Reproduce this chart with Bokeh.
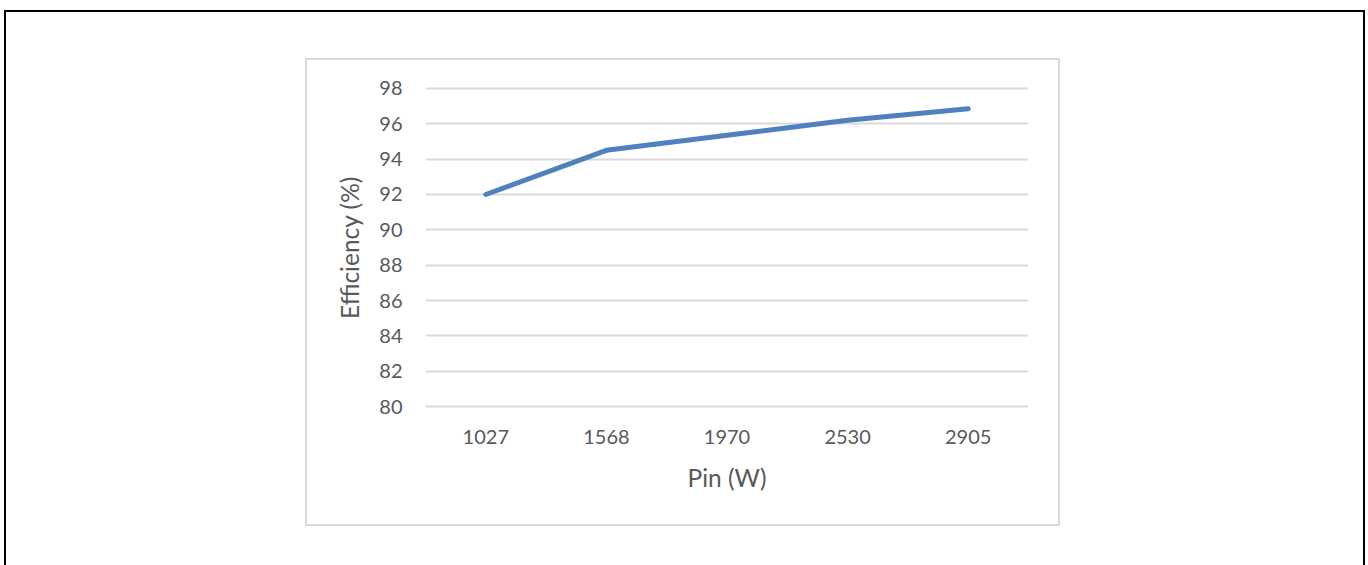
from bokeh.plotting import figure
from bokeh.models import Range1d, FactorRange, FixedTicker
from bokeh.embed import file_html
from bokeh.resources import INLINE

# data
categories = ["1027", "1568", "1970", "2530", "2905"]
efficiency = [92.0, 94.5, 95.35, 96.2, 96.85]
y_ticks = [80, 82, 84, 86, 88, 90, 92, 94, 96, 98]

FONT = "Lato"
TEXT = "#595959"
GRID = "#d9d9d9"

W, H = 1368, 565
css = """
:host::before { content: ""; position: absolute; left: 305px; top: 58px;
  width: 751px; height: 464px; border: 2px solid #d9d9d9; pointer-events: none; z-index: 10; }
:host::after { content: ""; position: absolute; left: 4px; top: 10px;
  width: 1357px; height: 555px; border: 2px solid black; border-bottom: none;
  pointer-events: none; z-index: 10; }
"""

p = figure(
    width=W, height=H,
    x_range=FactorRange(*categories, range_padding=0),
    y_range=Range1d(79.887, 98.113),
    output_backend="svg", toolbar_location=None,
    min_border_left=425, min_border_right=W - 1028,
    min_border_top=86, min_border_bottom=H - 408,
    stylesheets=[css],
)
p.outline_line_color = None
p.background_fill_color = "white"
p.border_fill_color = "white"

p.line(categories, efficiency, line_color="#4F81BD", line_width=5, line_cap="round", line_join="round")

# axes
p.yaxis.ticker = FixedTicker(ticks=y_ticks)
for ax in (p.xaxis[0], p.yaxis[0]):
    ax.axis_line_color = None
    ax.major_tick_line_color = None
    ax.minor_tick_line_color = None
    ax.major_label_text_font = FONT
    ax.major_label_text_color = TEXT
    ax.major_label_text_font_size = "20px"
    ax.axis_label_text_font = FONT
    ax.axis_label_text_color = TEXT
    ax.axis_label_text_font_size = "24.5px"
    ax.axis_label_text_font_style = "normal"
p.xaxis.axis_label = "Pin (W)"
p.yaxis.axis_label = "Efficiency (%)"
p.xaxis.major_label_standoff = 15
p.yaxis.major_label_standoff = 17
p.xaxis.axis_label_standoff = 16
p.yaxis.axis_label_standoff = 12

p.xgrid.grid_line_color = None
p.ygrid.grid_line_color = GRID
p.ygrid.grid_line_width = 2

open("out.html", "w").write(file_html(p, INLINE))
